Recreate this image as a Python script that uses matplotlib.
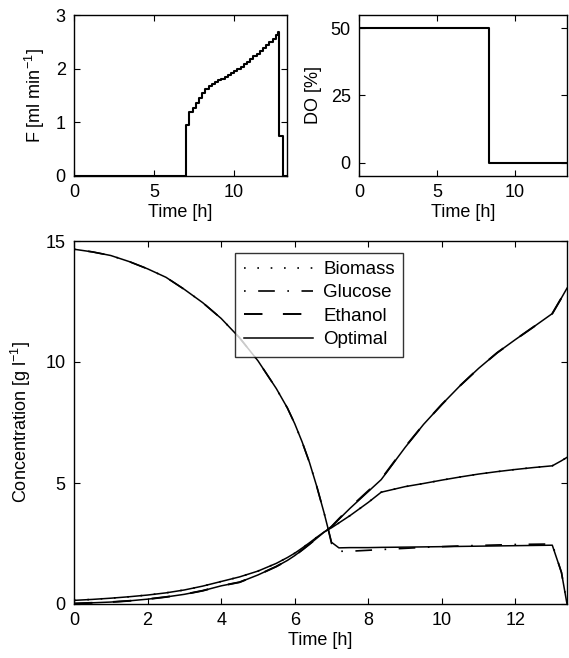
import matplotlib
matplotlib.use("Agg")
import matplotlib.pyplot as plt
import numpy as np

plt.rcParams['font.family'] = ['Liberation Sans', 'DejaVu Sans']
plt.rcParams['mathtext.fontset'] = 'custom'
plt.rcParams['mathtext.rm'] = 'Liberation Sans'
plt.rcParams['mathtext.it'] = 'Liberation Sans:italic'

# ---- Feed rate F (step profile) ----
f_time = [0.0, 7.0, 7.2, 7.4, 7.6, 7.8, 8.0, 8.2, 8.4, 8.6, 8.8, 9.0, 9.2, 9.4, 9.6,
          9.8, 10.0, 10.2, 10.4, 10.6, 10.8, 11.0, 11.2, 11.4, 11.6, 11.8, 12.0,
          12.2, 12.4, 12.6, 12.72, 12.82, 13.02, 13.35]
f_value = [0.0, 0.95, 1.20, 1.27, 1.36, 1.45, 1.55, 1.63, 1.68, 1.71, 1.75, 1.78, 1.81,
           1.84, 1.88, 1.92, 1.96, 2.00, 2.04, 2.08, 2.13, 2.18, 2.23, 2.28, 2.33,
           2.38, 2.44, 2.50, 2.56, 2.62, 2.68, 0.75, 0.0, 0.0]

# ---- Dissolved oxygen ----
do_time = [0.0, 8.35, 13.35]
do_value = [50, 0, 0]

# ---- Concentrations ----
t = [0, 0.5, 1, 1.5, 2, 2.5, 3, 3.5, 4, 4.5, 5, 5.5, 5.8, 6.0, 6.2, 6.4, 6.6, 6.8,
     6.9, 7.0, 7.2, 7.5, 8.0, 8.35, 9.0, 9.5, 10, 10.5, 11, 11.5, 12, 12.5, 13.0,
     13.25, 13.4]

glucose_opt = [14.66, 14.55, 14.40, 14.15, 13.85, 13.50, 13.00, 12.45, 11.80, 11.00,
               10.05, 8.90, 8.10, 7.45, 6.70, 5.85, 4.85, 3.75, 3.15, 2.55, 2.32, 2.33,
               2.33, 2.34, 2.35, 2.36, 2.37, 2.38, 2.39, 2.40, 2.41, 2.42, 2.43, 1.30,
               0.0]
glucose_meas = [14.66, 14.55, 14.40, 14.15, 13.85, 13.50, 13.00, 12.45, 11.80, 11.00,
                10.05, 8.90, 8.10, 7.45, 6.70, 5.85, 4.85, 3.75, 3.15, 2.50, 2.18, 2.18,
                2.22, 2.25, 2.30, 2.34, 2.37, 2.40, 2.42, 2.44, 2.46, 2.47, 2.48, 1.30,
                0.0]

biomass_opt = [0.15, 0.19, 0.24, 0.30, 0.37, 0.46, 0.58, 0.74, 0.93, 1.12, 1.36, 1.68,
               1.92, 2.10, 2.31, 2.53, 2.76, 2.98, 3.07, 3.15, 3.35, 3.65, 4.20, 4.62,
               4.85, 4.98, 5.12, 5.25, 5.37, 5.47, 5.56, 5.64, 5.71, 5.92, 6.06]
biomass_meas = [0.15, 0.19, 0.24, 0.30, 0.37, 0.46, 0.58, 0.74, 0.93, 1.12, 1.36, 1.68,
                1.92, 2.10, 2.31, 2.53, 2.76, 2.98, 3.07, 3.15, 3.35, 3.65, 4.20, 4.62,
                4.85, 4.98, 5.12, 5.25, 5.37, 5.47, 5.56, 5.64, 5.71, 5.92, 6.06]

ethanol_opt = [0.02, 0.05, 0.08, 0.13, 0.20, 0.29, 0.40, 0.55, 0.75, 0.90, 1.20, 1.55,
               1.80, 2.00, 2.23, 2.47, 2.72, 2.97, 3.07, 3.20, 3.50, 3.95, 4.65, 5.14,
               6.47, 7.42, 8.25, 9.03, 9.74, 10.38, 10.93, 11.46, 12.00, 12.65, 13.05]
ethanol_meas = [0.02, 0.05, 0.08, 0.13, 0.20, 0.29, 0.40, 0.55, 0.75, 0.90, 1.20, 1.55,
                1.80, 2.00, 2.23, 2.47, 2.72, 2.97, 3.07, 3.20, 3.52, 3.98, 4.68, 5.16,
                6.49, 7.42, 8.25, 9.03, 9.74, 10.38, 10.93, 11.46, 12.00, 12.65, 13.05]

labels = ['Biomass', 'Glucose', 'Ethanol', 'Optimal']

FS = 13
fig = plt.figure(figsize=(5.69, 6.58), dpi=100)

def style(ax):
    ax.tick_params(direction='in', top=True, right=True, length=4, width=0.8,
                   labelsize=FS, pad=6)
    for s in ax.spines.values():
        s.set_linewidth(1.0)

# Top-left: F
ax1 = fig.add_axes([74/569, 1-176/658, 213/569, 161/658])
ax1.step(f_time, f_value, where='post', color='black', lw=1.5)
ax1.set_xlim(0, 13.3)
ax1.set_ylim(0, 3)
ax1.set_xticks([0, 5, 10])
ax1.set_yticks([0, 1, 2, 3])
ax1.set_xlabel('Time [h]', fontsize=FS, labelpad=2)
ax1.set_ylabel('F [ml min$^{-1}$]', fontsize=FS, labelpad=6)
style(ax1)

# Top-right: DO
ax2 = fig.add_axes([359/569, 1-176/658, 208/569, 161/658])
ax2.step(do_time, do_value, where='post', color='black', lw=1.5)
ax2.set_xlim(0, 13.35)
ax2.set_ylim(-5, 55)
ax2.set_xticks([0, 5, 10])
ax2.set_yticks([0, 25, 50])
ax2.set_xlabel('Time [h]', fontsize=FS, labelpad=2)
ax2.set_ylabel('DO [%]', fontsize=FS, labelpad=6)
style(ax2)

# Main concentrations
ax3 = fig.add_axes([74/569, 1-604/658, 493/569, 363/658])
l1, = ax3.plot(t, biomass_meas, color='black', lw=1.2, linestyle=(0, (1, 7)))
l2, = ax3.plot(t, glucose_meas, color='black', lw=1.2, linestyle=(0, (1, 7.5, 10, 7.5)))
l3, = ax3.plot(t, ethanol_meas, color='black', lw=1.4, linestyle=(0, (9.5, 10.5)))
l4, = ax3.plot(t, biomass_opt, color='black', lw=1.1)
ax3.plot(t, glucose_opt, color='black', lw=1.1)
ax3.plot(t, ethanol_opt, color='black', lw=1.1)
ax3.set_xlim(0, 13.4)
ax3.set_ylim(0, 15)
ax3.set_xticks([0, 2, 4, 6, 8, 10, 12])
ax3.set_yticks([0, 5, 10, 15])
ax3.set_xlabel('Time [h]', fontsize=FS, labelpad=2)
ax3.set_ylabel('Concentration [g l$^{-1}$]', fontsize=FS, labelpad=9)
style(ax3)

leg = ax3.legend([l1, l2, l3, l4], labels, loc='upper left',
                 bbox_to_anchor=(0.327, 0.968), fontsize=13.5, frameon=True,
                 fancybox=False, edgecolor='black', handlelength=3.7,
                 handletextpad=0.55, labelspacing=0.33, borderpad=0.45,
                 borderaxespad=0)
leg.get_frame().set_linewidth(1.0)

fig.savefig('out.png', dpi=100)
